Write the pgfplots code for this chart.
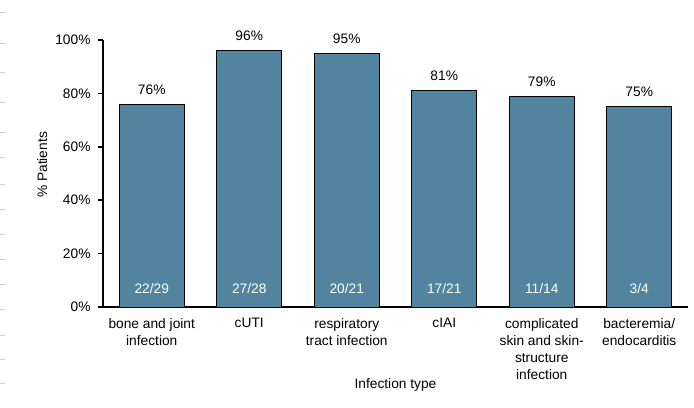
\documentclass[border=0pt]{standalone}
\usepackage{fontspec}
\setmainfont{Liberation Sans}
\usepackage{pgfplots}
\pgfplotsset{compat=1.18}
\definecolor{barblue}{RGB}{82,132,160}

\begin{document}
\begin{tikzpicture}
\path[use as bounding box] (0,0) rectangle (694bp,408bp);
% faint marks along the left edge of the page
\foreach \yy in {12,43,72,102,132,157,184,209,234,259,284,309,335,359,383}
  \draw[gray!35, line width=0.8bp] (0,408bp-\yy bp) -- (5bp,408bp-\yy bp);
\begin{axis}[
    at={(103bp,101bp)}, anchor=south west,
    scale only axis, width=585bp, height=267bp,
    font=\fontsize{13.8}{17}\selectfont,
    /pgf/number format/assume math mode=true,
    xmin=-0.5, xmax=5.5, ymin=0, ymax=100,
    axis x line*=bottom, axis y line*=left,
    axis line style={line width=1.6bp, -},
    ytick={0,20,40,60,80,100},
    yticklabel={\pgfmathprintnumber{\tick}\%},
    yticklabel style={xshift=-4bp},
    ytick style={line width=1.6bp, black},
    major tick length=5bp,
    tick align=outside,
    xtick=data,
    xtick style={draw=none},
    xticklabels={{bone and joint\\infection},{cUTI},{respiratory\\tract infection},{cIAI},{complicated\\skin and skin-\\structure\\infection},{bacteremia/\\endocarditis}},
    xticklabel style={align=center, yshift=-3bp},
    ylabel={\% Patients},
    ylabel style={at={(axis description cs:-0.104,0.532)}, anchor=center},
    xlabel={Infection type},
    xlabel style={at={(axis description cs:0.5,-0.293)}, anchor=center},
    clip=false,
    ybar, bar width=65bp,
    nodes near coords={\pgfmathprintnumber{\pgfplotspointmeta}\%},
    nodes near coords style={anchor=south, yshift=6bp},
]
\addplot[fill=barblue, draw=black, line width=0.8bp] coordinates {
    (0,76) (1,96) (2,95) (3,81) (4,79) (5,75)
};
\node[white] at (axis cs:0,7) {22/29};
\node[white] at (axis cs:1,7) {27/28};
\node[white] at (axis cs:2,7) {20/21};
\node[white] at (axis cs:3,7) {17/21};
\node[white] at (axis cs:4,7) {11/14};
\node[white] at (axis cs:5,7) {3/4};
\end{axis}
\end{tikzpicture}
\end{document}
